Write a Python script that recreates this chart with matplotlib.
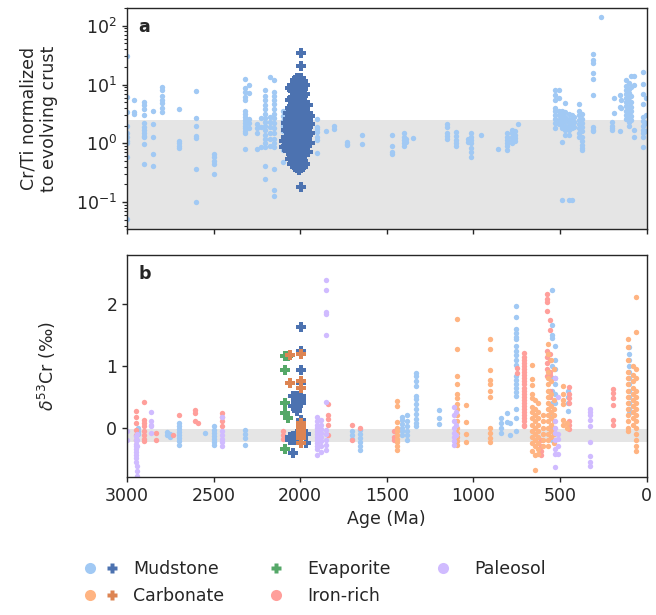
import matplotlib
matplotlib.use("Agg")
import matplotlib.pyplot as plt
from matplotlib.lines import Line2D
from matplotlib.legend_handler import HandlerTuple

plt.rcParams['font.family'] = ['DejaVu Sans']
plt.rcParams['font.size'] = 12.5
plt.rcParams['text.color'] = '#262626'
plt.rcParams['axes.labelcolor'] = '#262626'
plt.rcParams['xtick.color'] = '#262626'
plt.rcParams['ytick.color'] = '#262626'

# ---------------- colours ----------------
C_MUD = '#a1c9f4'
C_CARB = '#ffb482'
C_IRON = '#ff9f9b'
C_PALEO = '#d0bbff'
C_MUD_P = '#4c72b0'
C_CARB_P = '#dd8452'
C_EVAP_P = '#55a868'

categories = ['Mudstone', 'Carbonate', 'Evaporite', 'Iron-rich', 'Paleosol']

# ---------------- panel a: Cr/Ti normalized (age Ma, values) ----------------
crti_mudstone = [
    (2998, [31, 6.2, 3.4, 2.0, 1.5, 1.3, 1.1, 1.0, 0.58, 0.052]),
    (2960, [5.4, 3.4, 3.1]),
    (2900, [5.0, 4.5, 3.9, 3.0, 2.2, 1.9, 1.7, 1.5, 1.35, 1.27, 0.96, 0.44]),
    (2848, [3.5, 2.1, 1.28, 0.65, 0.41]),
    (2800, [9.0, 8.0, 6.5, 5.5, 4.8, 4.0, 3.4]),
    (2699, [3.9, 1.1, 1.0, 0.9, 0.82]),
    (2600, [7.8, 2.7, 1.95, 1.35, 1.25, 0.37, 0.1]),
    (2499, [0.65, 0.58, 0.5, 0.45, 0.3]),
    (2320, [12.3, 8.6, 7.5, 6.2, 5.4, 3.6, 3.2, 2.8, 2.5, 2.2, 2.0, 1.8, 1.6, 1.5, 0.8]),
    (2296, [9.7, 7.1, 2.6, 2.2, 1.8]),
    (2251, [2.1, 1.8, 1.5, 0.8]),
    (2224, [2.7, 1.9, 0.87]),
    (2201, [8.0, 6.5, 5.5, 4.5, 3.8, 3.2, 2.7, 2.3, 2.0, 1.7, 1.4, 1.2, 1.0, 0.87, 0.41, 0.25]),
    (2176, [13.5, 2.8, 2.3, 1.9, 1.5, 1.2, 0.9]),
    (2151, [11.8, 7.5, 6.5, 5.5, 4.6, 3.8, 3.2, 2.7, 2.2, 1.8, 1.5, 1.2, 1.0, 0.87, 0.37, 0.16, 0.127]),
    (2100, [3.5, 2.9, 2.4, 2.0, 1.6, 1.3, 1.1, 0.9, 0.76, 0.48]),
    (1901, [2.6, 1.9, 1.75, 1.56, 1.28, 1.12, 0.68]),
    (1850, [1.62]),
    (1802, [1.97, 1.78]),
    (1731, [1.05, 0.98, 0.92]),
    (1643, [1.4, 0.99]),
    (1472, [1.37, 0.9, 0.71, 0.65]),
    (1403, [1.48, 1.3, 1.15, 1.0, 0.89]),
    (1390, [1.2, 1.05]),
    (1351, [1.23]),
    (1153, [2.1, 1.9, 1.5, 1.35, 1.2]),
    (1101, [1.56, 1.35, 1.15, 1.0, 0.9]),
    (1030, [1.2, 1.05]),
    (1015, [1.48, 1.3, 1.15, 1.0, 0.85, 0.72, 0.58]),
    (954, [1.37]),
    (856, [0.79]),
    (804, [1.48, 1.3, 1.15, 1.0, 0.9, 0.78]),
    (777, [1.7, 1.5, 1.3, 1.15, 1.0]),
    (760, [1.6, 1.4, 1.25, 1.1]),
    (743, [2.1]),
    (530, [8.0, 6.6, 5.4, 4.05, 3.6, 3.0, 2.6, 2.2, 1.8]),
    (507, [8.2, 6.0, 3.5, 3.0, 2.5, 2.1]),
    (489, [3.6, 3.1, 2.7, 2.3, 2.0, 1.8, 1.05, 0.107]),
    (468, [4.9, 3.4, 2.8, 2.4, 2.0, 1.7, 1.37]),
    (450, [3.2, 2.6, 2.2, 1.9, 1.7, 1.37, 0.107]),
    (430, [3.0, 2.5, 2.1, 1.8, 0.107]),
    (420, [2.8, 2.3, 1.9]),
    (392, [4.6, 3.6, 3.0, 2.5, 2.1, 1.8, 1.5, 1.3]),
    (370, [3.2, 2.6, 2.2, 1.9, 1.6, 1.3, 1.1, 0.95, 0.85, 0.76]),
    (309, [32.5, 26, 23, 15.8, 12.4, 6.6, 1.9, 1.7, 1.6]),
    (263, [138]),
    (200, [2.3, 2.0, 1.8, 1.66]),
    (186, [6.0, 3.3]),
    (155, [6.6, 4.2, 1.62]),
    (146, [5.55, 4.0]),
    (120, [11.8, 9.5, 8.0, 7.0, 6.0, 5.0, 4.3, 3.6, 3.0, 2.6]),
    (100, [10.5, 8.5, 7.2, 6.2, 5.2, 4.4, 3.7, 3.1, 2.7, 2.3, 2.0]),
    (90, [13.9, 9.0, 6.5, 5.0, 4.2, 3.5, 2.9, 2.46]),
    (71, [14.0, 9.7, 1.71, 1.28]),
    (23, [16.4, 10.4, 7.0, 4.75, 2.8, 2.4, 2.0, 1.7, 1.5, 1.28, 0.87]),
    (5, [6.0, 3.0, 2.2, 1.6]),
]

crti_mudstone_plus = [
    (2092, [0.87, 1.1]),
    (2082, [0.9, 1.3, 1.7, 2.2]),
    (2070, [0.75, 1.0, 1.25, 1.6, 2.0, 2.6, 3.3]),
    (2058, [0.55, 0.8, 1.05, 1.35, 1.75, 2.3, 3.0, 4.0, 5.5, 8.7]),
    (2045, [0.45, 0.6, 0.85, 1.1, 1.45, 1.9, 2.5, 3.3, 4.4, 6.0, 8.0, 10.0]),
    (2032, [0.4, 0.55, 0.75, 1.0, 1.3, 1.7, 2.2, 2.9, 3.8, 5.0, 6.6, 9.0, 12.0]),
    (2018, [0.38, 0.5, 0.68, 0.9, 1.2, 1.55, 2.0, 2.6, 3.4, 4.5, 6.0, 8.0, 10.5, 13.0]),
    (2005, [0.35, 0.45, 0.6, 0.8, 1.05, 1.4, 1.8, 2.4, 3.1, 4.1, 5.4, 7.2, 9.5, 12.5]),
    (1995, [0.18, 0.38, 0.55, 0.75, 1.0, 1.3, 1.7, 2.2, 2.9, 3.8, 5.0, 6.6, 8.8, 12.8, 21, 34]),
    (1983, [0.4, 0.5, 0.7, 0.95, 1.25, 1.6, 2.1, 2.8, 3.6, 4.8, 6.3, 8.5, 11.5]),
    (1970, [0.45, 0.65, 0.9, 1.2, 1.6, 2.1, 2.8, 3.7, 5.0, 7.0, 10.0]),
    (1957, [0.7, 1.0, 1.4, 1.9, 2.5, 3.3, 4.5]),
    (1945, [1.0, 1.5, 2.1, 2.9]),
]

# ---------------- panel b: delta53Cr (age Ma, values) ----------------
d53_mudstone = [
    (2935, [0.0, -0.05, -0.1]),
    (2770, [-0.07, -0.12]),
    (2750, [-0.1, -0.15]),
    (2699, [0.08, 0.03, -0.02, -0.07, -0.12, -0.17, -0.22, -0.28]),
    (2551, [-0.09]),
    (2497, [0.02, -0.03, -0.08, -0.13, -0.18, -0.23, -0.28]),
    (2320, [-0.03, -0.1, -0.17, -0.28]),
    (1703, [-0.05, -0.12, -0.19]),
    (1653, [-0.03, -0.1, -0.17, -0.24, -0.3, -0.36]),
    (1411, [0.18, 0.12, 0.06, 0.0, -0.06, -0.12]),
    (1385, [0.2, 0.1, 0.02, -0.05, -0.12, -0.2]),
    (1332, [0.89, 0.83, 0.76, 0.68, 0.52, 0.46, 0.38, 0.3, 0.22, 0.14, 0.08, 0.02]),
    (1201, [0.28, 0.16, 0.06]),
    (843, [0.16, 0.08, 0.0, -0.09]),
    (804, [0.24, 0.09]),
    (790, [0.08, -0.12]),
    (752, [1.97, 1.8, 1.6, 1.53, 1.47, 1.43, 1.32, 1.25, 1.18, 1.1, 1.02, 0.83, 0.77,
           0.7, 0.65, 0.58, 0.51, 0.3, 0.15, -0.06]),
    (543, [2.24, 1.66, 1.51, 1.46, 1.0, 0.8, 0.6, 0.4, 0.2, 0.0, -0.2]),
    (526, [1.32, 1.1, 0.95, 0.8, 0.7, 0.55, 0.4]),
    (455, [0.59, 0.5, 0.4, 0.27]),
    (100, [1.3, 1.2, 1.1, 1.0, 0.9, 0.8, 0.7, 0.6, 0.5, 0.4, 0.3, 0.24]),
]

d53_ironrich = [
    (2950, [0.27, 0.18, 0.08, -0.03, -0.12, -0.2]),
    (2900, [0.41, 0.13, 0.08, 0.02, -0.05, -0.12, -0.18, -0.22]),
    (2830, [-0.09, -0.2]),
    (2735, [-0.12]),
    (2699, [0.21]),
    (2607, [0.28, 0.23, 0.1]),
    (2590, [0.08]),
    (2451, [0.24, 0.17, 0.1, 0.03]),
    (2100, [-0.05, -0.12, -0.18]),
    (1841, [0.39, 0.21, 0.14, 0.05, -0.12]),
    (1703, [0.04, -0.2]),
    (1653, [0.0]),
    (1460, [-0.05, -0.15, -0.2]),
    (745, [0.97, 0.89]),
    (705, [1.21, 1.15, 1.1, 1.05, 1.0, 0.95, 0.9, 0.85, 0.8, 0.75, 0.7, 0.65, 0.6, 0.55,
           0.5, 0.45, 0.4, 0.35, 0.3, 0.25, 0.2, 0.15, 0.1, 0.05, 0.02]),
    (612, [-0.2, -0.3, -0.38, -0.44]),
    (574, [2.17, 2.09, 2.03, 1.89, 1.24, 1.15, 1.05, 0.95, 0.83]),
    (560, [1.74, 1.58, 1.2, 1.1, 0.9, 0.85, 0.6, 0.5]),
    (445, [0.66, 0.55, 0.48, 0.4, 0.1, 0.05, -0.02]),
    (196, [0.63, 0.56, 0.48, 0.37, 0.13, 0.05]),
]

d53_carbonate = [
    (1443, [0.43, 0.35, 0.09, 0.0, -0.06, -0.12, -0.18, -0.24, -0.3, -0.36]),
    (1096, [1.77, 1.28, 0.84, 0.7, 0.55, 0.48, 0.38, 0.3, 0.2, 0.1, 0.0, -0.08, -0.15, -0.22, -0.28]),
    (1040, [0.37, 0.09, -0.1, -0.24]),
    (904, [1.43, 1.28, 0.93, 0.78, 0.7, 0.59, 0.5, 0.0, -0.08, -0.16, -0.24]),
    (664, [1.02, 0.79, 0.69, 0.55, 0.48, 0.34, 0.25, 0.15, 0.05, -0.05, -0.15, -0.25, -0.38]),
    (645, [0.45, 0.3, 0.2, 0.1, 0.0, -0.1, -0.2, -0.3, -0.44, -0.69]),
    (625, [0.4, 0.25, 0.15, 0.05, -0.05, -0.15, -0.25, -0.35, -0.42]),
    (600, [0.2, 0.1, 0.0, -0.1, -0.2, -0.3]),
    (570, [1.35, 1.2, 0.9, 0.8, 0.7, 0.6, 0.5, 0.4, 0.3, 0.2, 0.1, 0.0, -0.1, -0.2, -0.3]),
    (550, [1.1, 0.75, 0.55, 0.35, 0.25, 0.15, 0.05, -0.05, -0.15]),
    (535, [0.95, 0.45, 0.3, 0.2, 0.1, 0.0, -0.1, -0.25]),
    (484, [0.67, 0.55, 0.45, 0.38, 0.12, 0.05]),
    (460, [0.08, 0.0]),
    (104, [1.43, 1.3, 1.1, 0.9, 0.8, 0.7, 0.6, 0.5, 0.4, 0.3, 0.2, 0.1, 0.0, -0.05]),
    (80, [1.0, 0.85, 0.75, 0.65, 0.55, 0.45, 0.35, 0.25, 0.15, 0.05]),
    (63, [2.12, 1.55, 0.95, 0.8, 0.6, 0.5, 0.4, 0.3, 0.2, 0.1, 0.0, -0.1, -0.2, -0.3, -0.38]),
]

d53_paleosol = [
    (2998, [-0.06, -0.2]),
    (2950, [-0.14, -0.2, -0.26, -0.3, -0.35, -0.4, -0.45, -0.5, -0.55]),
    (2940, [-0.1, -0.2, -0.3, -0.62, -0.7, -0.79]),
    (2864, [0.25, 0.1, 0.05, 0.02, -0.09]),
    (2450, [0.17, -0.05, -0.12, -0.18, -0.24, -0.3]),
    (1900, [0.18, 0.1, 0.05, 0.0, -0.05, -0.1, -0.15, -0.2, -0.25, -0.3, -0.35, -0.44]),
    (1880, [0.12, 0.05, -0.02, -0.08, -0.15, -0.22, -0.3, -0.4]),
    (1850, [2.39, 2.23, 1.88, 1.84, 1.5, 0.41, -0.03, -0.1, -0.2, -0.28, -0.36]),
    (1110, [0.34, 0.2, 0.1, 0.0, -0.08, -0.15, -0.22, -0.28]),
    (1100, [0.25, 0.05, -0.12]),
    (526, [0.81, 0.1, 0.0, -0.08, -0.2, -0.34, -0.42, -0.64]),
    (510, [0.5, -0.1, -0.18, -0.3, -0.42]),
    (328, [0.3, 0.25, 0.2, 0.13, 0.03, -0.24, -0.46, -0.56, -0.62]),
]

d53_mudstone_plus = [
    (2060, [-0.15, -0.2]),
    (2042, [0.51, 0.35, -0.14, -0.2, -0.41]),
    (2020, [0.51, 0.42, 0.34, 0.27, -0.1, -0.15, -0.2]),
    (1994, [1.64, 1.24, 0.94, 0.73, 0.51, 0.45, 0.4, 0.13, 0.05, -0.14, -0.25]),
    (1969, [-0.1, -0.25]),
]
d53_evaporite_plus = [
    (2090, [1.17, 0.93, 0.4, 0.24, -0.34]),
    (2070, [1.17, 0.15]),
]
d53_carbonate_plus = [
    (2060, [1.18, 0.73]),
    (1995, [1.2, 0.75, 0.64, 0.08, 0.03, -0.02, -0.07, -0.12, -0.17, -0.25]),
]

crust_band_top = 2.5          # panel a grey band upper limit
bse_band = (-0.225, -0.025)   # panel b grey band


def flat(cols):
    xs, ys = [], []
    for age, vals in cols:
        for v in vals:
            xs.append(age)
            ys.append(v)
    return xs, ys


W, H = 656, 615
fig = plt.figure(figsize=(W / 100, H / 100), dpi=100)
L = 127 / W
AW = (646.5 - 127) / W
ax1 = fig.add_axes([L, 1 - 229 / H, AW, (229 - 8) / H])
ax2 = fig.add_axes([L, 1 - 477 / H, AW, (477 - 255) / H])

CS = 15   # circle size
PS = 58   # plus size

# panel a
ax1.axhspan(1e-3, crust_band_top, color='#e5e5e5', lw=0, zorder=0)
x, y = flat(crti_mudstone)
ax1.scatter(x, y, s=CS, c=C_MUD, lw=0, zorder=2)
x, y = flat(crti_mudstone_plus)
ax1.scatter(x, y, s=PS, c=C_MUD_P, marker='P', lw=0, zorder=3)
ax1.set_yscale('log')
ax1.set_ylim(0.035, 200)
ax1.set_xlim(3000, 0)
ax1.set_ylabel('Cr/Ti normalized\nto evolving crust')
ax1.tick_params(labelbottom=False)
ax1.text(0.022, 0.955, 'a', transform=ax1.transAxes, fontweight='bold', ha='left', va='top')

# panel b
ax2.axhspan(bse_band[0], bse_band[1], color='#e5e5e5', lw=0, zorder=0)
for cols, col in [(d53_mudstone, C_MUD), (d53_ironrich, C_IRON),
                  (d53_carbonate, C_CARB), (d53_paleosol, C_PALEO)]:
    x, y = flat(cols)
    ax2.scatter(x, y, s=CS, c=col, lw=0, zorder=2)
for cols, col in [(d53_evaporite_plus, C_EVAP_P), (d53_mudstone_plus, C_MUD_P),
                  (d53_carbonate_plus, C_CARB_P)]:
    x, y = flat(cols)
    ax2.scatter(x, y, s=PS, c=col, marker='P', lw=0, zorder=3)
ax2.set_xlim(3000, 0)
ax2.set_ylim(-0.8, 2.8)
ax2.set_yticks([0, 1, 2])
ax2.set_xticks([3000, 2500, 2000, 1500, 1000, 500, 0])
ax1.set_xticks([3000, 2500, 2000, 1500, 1000, 500, 0])
ax2.set_xlabel('Age (Ma)')
ax2.set_ylabel(r'$\delta^{53}$Cr (‰)')
ax2.text(0.022, 0.955, 'b', transform=ax2.transAxes, fontweight='bold', ha='left', va='top')

for ax in (ax1, ax2):
    for sp in ax.spines.values():
        sp.set_color('#262626')
        sp.set_linewidth(1.0)
    ax.tick_params(which='major', length=3.5, width=1.0)
    ax.tick_params(which='minor', length=2, width=0.8)
    ax.yaxis.set_label_coords(-0.133, 0.5)

# legend
def circ(c):
    return Line2D([], [], ls='none', marker='o', ms=8, mfc=c, mec='none')

def plus(c):
    return Line2D([], [], ls='none', marker='P', ms=7.5, mfc=c, mec='none')

handles = [(circ(C_MUD), plus(C_MUD_P)), (circ(C_CARB), plus(C_CARB_P)),
           plus(C_EVAP_P), circ(C_IRON), circ(C_PALEO)]
labels = [categories[0], categories[1], categories[2], categories[3], categories[4]]
fig.legend(handles, labels, handler_map={tuple: HandlerTuple(ndivide=None, pad=0)},
           loc='upper left', bbox_to_anchor=(79 / W, 1 - 560 / H), ncol=3,
           frameon=False, borderpad=0, borderaxespad=0,
           handlelength=2.53, handletextpad=0.58, columnspacing=1.7, labelspacing=0.5)

fig.savefig('out.png', dpi=100)
